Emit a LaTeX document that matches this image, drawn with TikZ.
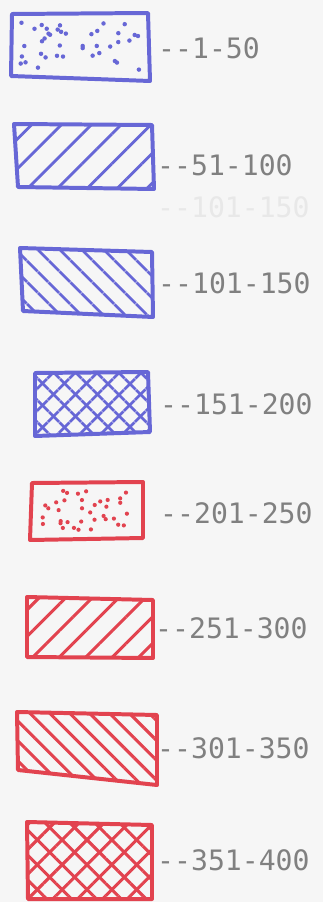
\documentclass[tikz,border=0pt]{standalone}
\usepackage{fontspec}
\setmonofont{DejaVu Sans Mono}
\usepackage{tikz}
\usepackage{xcolor}
\usetikzlibrary{patterns.meta}
\definecolor{Pen_Blue}{HTML}{6767D6}
\definecolor{Pen_Red}{HTML}{E2434F}
\definecolor{Paper}{HTML}{F6F6F6}
\definecolor{Ink_Gray}{HTML}{808080}

\begin{document}
\begin{tikzpicture}[x=0.03cm, y=-0.03cm,
    swatch/.style={line width=3.4pt, line join=round, line cap=round},
    rangelabel/.style={anchor=west, inner sep=0pt, text=Ink_Gray,
        font=\ttfamily\fontsize{24}{26}\selectfont}]
    % sheet of paper, pixel grid of the scan
    \fill[Paper] (0,0) rectangle (323,902);
    \useasboundingbox (0,0) rectangle (323,902);

    % --- blue pen: 1 to 200 ---
    % dotted
    \pgfmathsetseed{11}
    \foreach \k in {1,...,40} \fill[Pen_Blue] ({20+rnd*122},{22+rnd*50}) circle (1.9pt);
    \draw[swatch, Pen_Blue] (12,14) -- (148,13) -- (150,81) -- (11,76) -- cycle;
    \node[rangelabel] (r1) at (158,48) {--1-50};
    % single hatch, rising
    \draw[swatch, Pen_Blue, pattern={Lines[angle=45, distance=18pt, line width=2.4pt]}, pattern color=Pen_Blue]
        (14,124) -- (152,125) -- (154,189) -- (18,187) -- cycle;
    \node[rangelabel] (r2) at (157,165) {--51-100};
    % show-through from the back of the sheet
    \node[rangelabel, text=Ink_Gray!18] (r3) at (157,207) {--101-150};
    % single hatch, falling
    \draw[swatch, Pen_Blue, pattern={Lines[angle=-45, distance=13pt, line width=2.4pt]}, pattern color=Pen_Blue]
        (20,248) -- (152,252) -- (153,317) -- (23,311) -- cycle;
    \node[rangelabel] (r4) at (158,283) {--101-150};
    % cross hatch
    \draw[swatch, Pen_Blue, pattern={Lines[angle=45, distance=13pt, line width=2.4pt]}, pattern color=Pen_Blue]
        (35,373) -- (148,372) -- (150,432) -- (35,436) -- cycle;
    \fill[pattern={Lines[angle=-45, distance=13pt, line width=2.4pt]}, pattern color=Pen_Blue]
        (35,373) -- (148,372) -- (150,432) -- (35,436) -- cycle;
    \node[rangelabel] (r5) at (160,404) {--151-200};

    % --- red pen: 201 to 400 ---
    % dotted
    \pgfmathsetseed{23}
    \foreach \k in {1,...,36} \fill[Pen_Red] ({42+rnd*90},{490+rnd*40}) circle (1.8pt);
    \draw[swatch, Pen_Red] (32,483) -- (143,482) -- (143,538) -- (30,540) -- cycle;
    \node[rangelabel] (r6) at (160,513) {--201-250};
    % single hatch, rising
    \draw[swatch, Pen_Red, pattern={Lines[angle=45, distance=16pt, line width=2.6pt]}, pattern color=Pen_Red]
        (27,597) -- (153,600) -- (153,658) -- (27,657) -- cycle;
    \node[rangelabel] (r7) at (155,628) {--251-300};
    % single hatch, falling
    \draw[swatch, Pen_Red, pattern={Lines[angle=-45, distance=12pt, line width=2.6pt]}, pattern color=Pen_Red]
        (17,712) -- (157,715) -- (157,785) -- (18,770) -- cycle;
    \node[rangelabel] (r8) at (157,748) {--301-350};
    % cross hatch
    \draw[swatch, Pen_Red, pattern={Lines[angle=45, distance=15pt, line width=2.6pt]}, pattern color=Pen_Red]
        (27,822) -- (152,825) -- (152,899) -- (28,899) -- cycle;
    \fill[pattern={Lines[angle=-45, distance=15pt, line width=2.6pt]}, pattern color=Pen_Red]
        (27,822) -- (152,825) -- (152,899) -- (28,899) -- cycle;
    \node[rangelabel] (r9) at (157,860) {--351-400};
\end{tikzpicture}
\end{document}
